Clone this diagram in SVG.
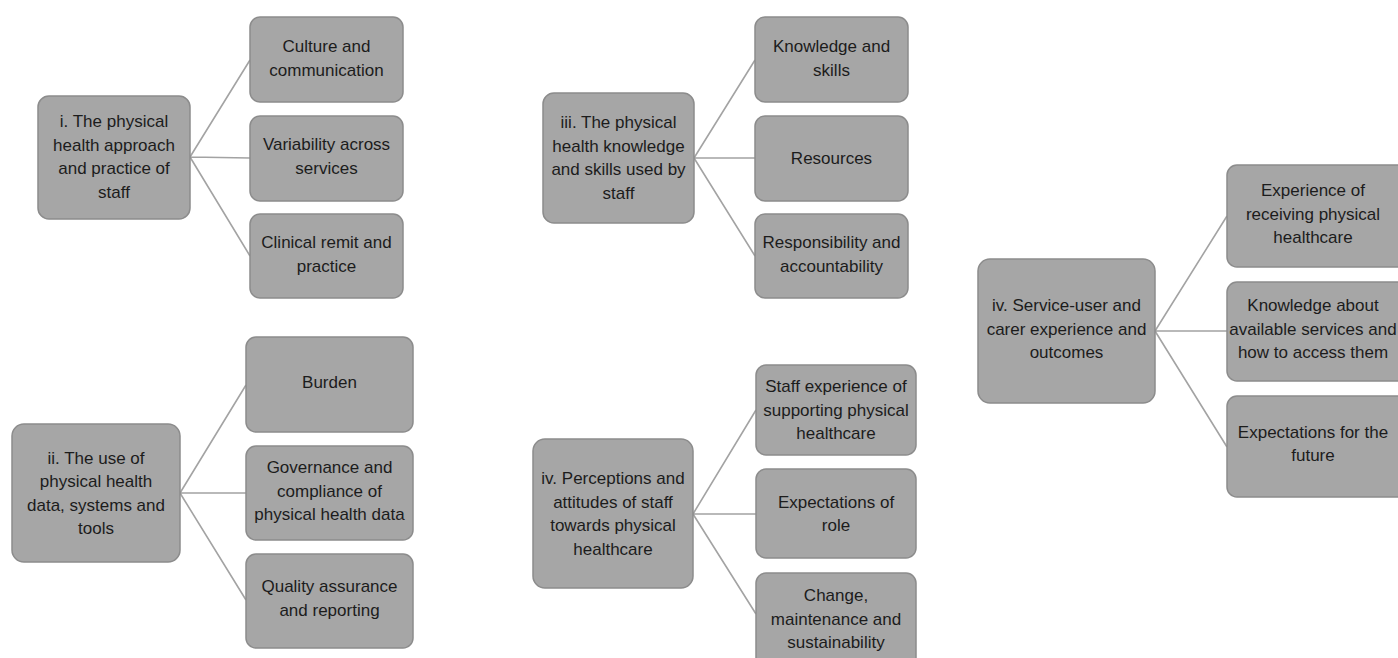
<svg xmlns="http://www.w3.org/2000/svg" width="1398" height="658" viewBox="0 0 1398 658">
<style>
.box{fill:#a6a6a6;stroke:#8c8c8c;stroke-width:1.5}
.t{font-family:"Liberation Sans",Arial,sans-serif;font-size:17px;fill:#1c1c1c;text-anchor:middle}
.c{stroke:#a3a3a3;stroke-width:1.6;fill:none}
</style>
<rect width="1398" height="658" fill="#ffffff"/>
<g id="connectors">
<path class="c" d="M190 157 L250 60 M190 157 L250 158 M190 157 L250 256"/>
<path class="c" d="M180 493 L246 385 M180 493 L246 493 M180 493 L246 600"/>
<path class="c" d="M694 158 L755 60 M694 158 L755 158 M694 158 L755 256"/>
<path class="c" d="M693 514 L756 410 M693 514 L756 514 M693 514 L756 614"/>
<path class="c" d="M1155 331 L1227 216 M1155 331 L1227 331 M1155 331 L1227 447"/>
</g>
<g id="n1">
<rect class="box" x="38" y="96" width="152" height="123" rx="11"/>
<text class="t" x="114"><tspan x="114" y="127">i. The physical</tspan><tspan x="114" y="151">health approach</tspan><tspan x="114" y="174">and practice of</tspan><tspan x="114" y="198">staff</tspan></text>
</g>
<g id="n1a">
<rect class="box" x="250" y="17" width="153" height="85" rx="10"/>
<text class="t"><tspan x="326.5" y="52">Culture and</tspan><tspan x="326.5" y="76">communication</tspan></text>
</g>
<g id="n1b">
<rect class="box" x="250" y="116" width="153" height="85" rx="10"/>
<text class="t"><tspan x="326.5" y="150">Variability across</tspan><tspan x="326.5" y="174">services</tspan></text>
</g>
<g id="n1c">
<rect class="box" x="250" y="214" width="153" height="84" rx="10"/>
<text class="t"><tspan x="326.5" y="248">Clinical remit and</tspan><tspan x="326.5" y="272">practice</tspan></text>
</g>
<g id="n2">
<rect class="box" x="12" y="424" width="168" height="138" rx="12"/>
<text class="t"><tspan x="96" y="464">ii. The use of</tspan><tspan x="96" y="487">physical health</tspan><tspan x="96" y="511">data, systems and</tspan><tspan x="96" y="534">tools</tspan></text>
</g>
<g id="n2a">
<rect class="box" x="246" y="337" width="167" height="95" rx="10"/>
<text class="t"><tspan x="329.5" y="388">Burden</tspan></text>
</g>
<g id="n2b">
<rect class="box" x="246" y="446" width="167" height="94" rx="10"/>
<text class="t"><tspan x="329.5" y="473">Governance and</tspan><tspan x="329.5" y="497">compliance of</tspan><tspan x="329.5" y="520">physical health data</tspan></text>
</g>
<g id="n2c">
<rect class="box" x="246" y="554" width="167" height="94" rx="10"/>
<text class="t"><tspan x="329.5" y="592">Quality assurance</tspan><tspan x="329.5" y="616">and reporting</tspan></text>
</g>
<g id="n3">
<rect class="box" x="543" y="93" width="151" height="130" rx="11"/>
<text class="t"><tspan x="618.5" y="128">iii. The physical</tspan><tspan x="618.5" y="152">health knowledge</tspan><tspan x="618.5" y="175">and skills used by</tspan><tspan x="618.5" y="199">staff</tspan></text>
</g>
<g id="n3a">
<rect class="box" x="755" y="17" width="153" height="85" rx="10"/>
<text class="t"><tspan x="831.5" y="52">Knowledge and</tspan><tspan x="831.5" y="76">skills</tspan></text>
</g>
<g id="n3b">
<rect class="box" x="755" y="116" width="153" height="85" rx="10"/>
<text class="t"><tspan x="831.5" y="164">Resources</tspan></text>
</g>
<g id="n3c">
<rect class="box" x="755" y="214" width="153" height="84" rx="10"/>
<text class="t"><tspan x="831.5" y="248">Responsibility and</tspan><tspan x="831.5" y="272">accountability</tspan></text>
</g>
<g id="n4">
<rect class="box" x="533" y="439" width="160" height="149" rx="12"/>
<text class="t"><tspan x="613" y="484">iv. Perceptions and</tspan><tspan x="613" y="508">attitudes of staff</tspan><tspan x="613" y="531">towards physical</tspan><tspan x="613" y="555">healthcare</tspan></text>
</g>
<g id="n4a">
<rect class="box" x="756" y="365" width="160" height="90" rx="10"/>
<text class="t"><tspan x="836" y="392">Staff experience of</tspan><tspan x="836" y="416">supporting physical</tspan><tspan x="836" y="439">healthcare</tspan></text>
</g>
<g id="n4b">
<rect class="box" x="756" y="469" width="160" height="89" rx="10"/>
<text class="t"><tspan x="836" y="508">Expectations of</tspan><tspan x="836" y="531">role</tspan></text>
</g>
<g id="n4c">
<rect class="box" x="756" y="573" width="160" height="95" rx="10"/>
<text class="t"><tspan x="836" y="601">Change,</tspan><tspan x="836" y="625">maintenance and</tspan><tspan x="836" y="648">sustainability</tspan></text>
</g>
<g id="n5">
<rect class="box" x="978" y="259" width="177" height="144" rx="12"/>
<text class="t"><tspan x="1066.5" y="311">iv. Service-user and</tspan><tspan x="1066.5" y="335">carer experience and</tspan><tspan x="1066.5" y="358">outcomes</tspan></text>
</g>
<g id="n5a">
<rect class="box" x="1227" y="165" width="180" height="102" rx="10"/>
<text class="t"><tspan x="1313" y="196">Experience of</tspan><tspan x="1313" y="220">receiving physical</tspan><tspan x="1313" y="243">healthcare</tspan></text>
</g>
<g id="n5b">
<rect class="box" x="1227" y="282" width="180" height="99" rx="10"/>
<text class="t"><tspan x="1313" y="311">Knowledge about</tspan><tspan x="1313" y="335">available services and</tspan><tspan x="1313" y="358">how to access them</tspan></text>
</g>
<g id="n5c">
<rect class="box" x="1227" y="396" width="180" height="101" rx="10"/>
<text class="t"><tspan x="1313" y="438">Expectations for the</tspan><tspan x="1313" y="461">future</tspan></text>
</g>
</svg>
